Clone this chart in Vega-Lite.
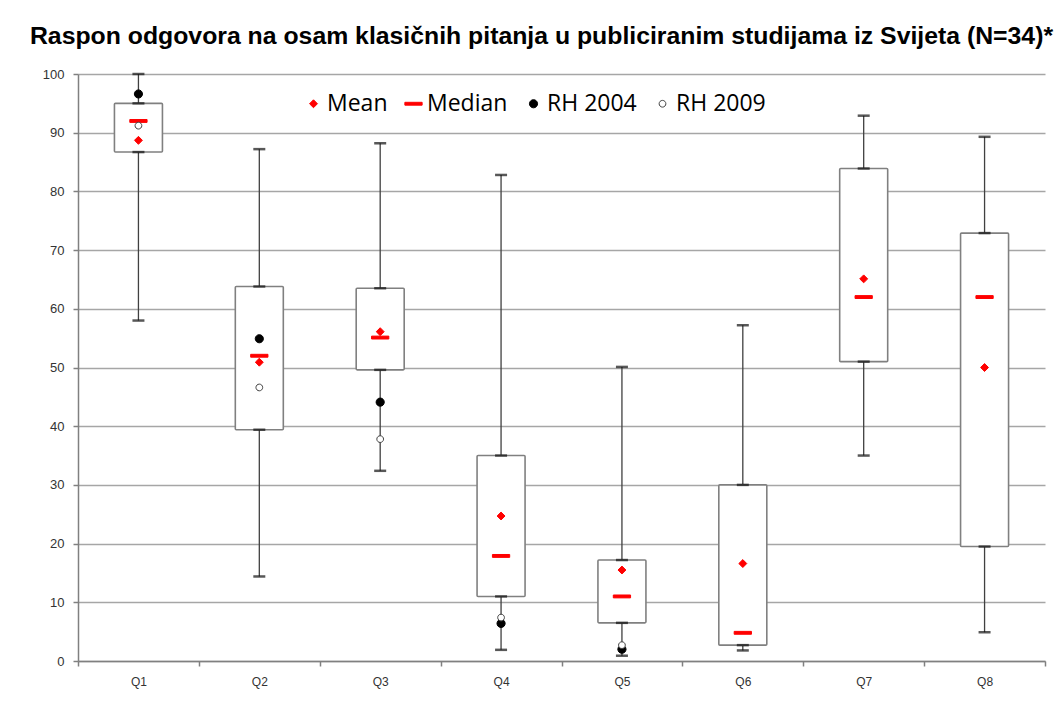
{
  "$schema": "https://vega.github.io/schema/vega-lite/v6.json",
  "width": 967,
  "height": 587,
  "autosize": {"type": "none"},
  "padding": {"left": 78, "top": 74, "right": 11, "bottom": 55},
  "background": "white",
  "title": {
    "text": "Raspon odgovora na osam klasičnih pitanja u publiciranim studijama iz Svijeta (N=34)*",
    "font": "Liberation Sans",
    "fontWeight": "bold",
    "fontSize": 24.8,
    "color": "#000000",
    "anchor": "middle",
    "frame": "group",
    "dx": -20,
    "offset": 19
  },
  "datasets": {
    "stats": [
      {"q": "Q1", "min": 58.0, "q1": 86.7, "median": 92.0, "q3": 95.0, "max": 100.0, "mean": 88.7, "rh2004": 96.6, "rh2009": 91.2},
      {"q": "Q2", "min": 14.4, "q1": 39.4, "median": 52.0, "q3": 63.8, "max": 87.2, "mean": 50.9, "rh2004": 54.9, "rh2009": 46.6},
      {"q": "Q3", "min": 32.4, "q1": 49.6, "median": 55.1, "q3": 63.5, "max": 88.2, "mean": 56.1, "rh2004": 44.1, "rh2009": 37.8},
      {"q": "Q4", "min": 1.9, "q1": 11.0, "median": 17.9, "q3": 35.0, "max": 82.8, "mean": 24.7, "rh2004": 6.4, "rh2009": 7.4},
      {"q": "Q5", "min": 0.9, "q1": 6.5, "median": 11.0, "q3": 17.2, "max": 50.1, "mean": 15.5, "rh2004": 2.0, "rh2009": 2.7},
      {"q": "Q6", "min": 1.8, "q1": 2.7, "median": 4.8, "q3": 30.0, "max": 57.2, "mean": 16.6, "rh2004": null, "rh2009": null},
      {"q": "Q7", "min": 35.0, "q1": 51.0, "median": 62.0, "q3": 83.9, "max": 92.9, "mean": 65.1, "rh2004": null, "rh2009": null},
      {"q": "Q8", "min": 4.9, "q1": 19.5, "median": 62.0, "q3": 72.9, "max": 89.3, "mean": 50.0, "rh2004": null, "rh2009": null}
    ]
  },
  "data": {"name": "stats"},
  "encoding": {
    "x": {
      "field": "q",
      "type": "nominal",
      "title": null,
      "scale": {"paddingInner": 0, "paddingOuter": 0},
      "axis": {"tickBand": "extent", "labelAngle": 0, "labelFontSize": 12, "labelPadding": 10, "grid": false}
    }
  },
  "layer": [
    {
      "mark": {"type": "rule", "color": "#404040", "strokeWidth": 1.3},
      "encoding": {
        "y": {"field": "min", "type": "quantitative", "title": null, "scale": {"domain": [0, 100], "nice": false},
              "axis": {"values": [0, 10, 20, 30, 40, 50, 60, 70, 80, 90, 100], "grid": true}},
        "y2": {"field": "max"}
      }
    },
    {
      "mark": {"type": "bar", "size": 48, "fill": "#ffffff", "stroke": "#808080", "strokeWidth": 1.6, "cornerRadius": 1},
      "encoding": {
        "y": {"field": "q1", "type": "quantitative", "title": null},
        "y2": {"field": "q3"}
      }
    },
    {
      "transform": [{"fold": ["min", "max", "q1", "q3"], "as": ["stat", "value"]}],
      "mark": {"type": "tick", "size": 12, "thickness": 2.5, "color": "#111111"},
      "encoding": {
        "y": {"field": "value", "type": "quantitative", "title": null}
      }
    },
    {
      "transform": [
        {"fold": ["mean", "median", "rh2004", "rh2009"], "as": ["series", "value"]},
        {"filter": "datum.value != null"}
      ],
      "mark": {"type": "point", "size": 576, "opacity": 1, "strokeWidth": 1},
      "encoding": {
        "y": {"field": "value", "type": "quantitative", "title": null},
        "shape": {
          "field": "series", "type": "nominal",
          "scale": {
            "domain": ["mean", "median", "rh2004", "rh2009"],
            "range": [
              "M0,-0.33L0.33,0L0,0.33L-0.33,0Z",
              "M-0.72,-0.12H0.72V0.12H-0.72Z",
              "M-0.34,0A0.34,0.34 0 1,0 0.34,0A0.34,0.34 0 1,0 -0.34,0Z",
              "M-0.28,0A0.28,0.28 0 1,0 0.28,0A0.28,0.28 0 1,0 -0.28,0Z"
            ]
          },
          "legend": {
            "orient": "none",
            "legendX": 223,
            "legendY": 17,
            "direction": "horizontal",
            "title": null,
            "labelExpr": "{'mean': 'Mean', 'median': 'Median', 'rh2004': 'RH 2004', 'rh2009': 'RH 2009'}[datum.label]"
          }
        },
        "fill": {
          "field": "series", "type": "nominal",
          "scale": {"domain": ["mean", "median", "rh2004", "rh2009"], "range": ["#ff0000", "#ff0000", "#000000", "#ffffff"]},
          "legend": {
            "orient": "none",
            "legendX": 223,
            "legendY": 17,
            "direction": "horizontal",
            "title": null,
            "labelExpr": "{'mean': 'Mean', 'median': 'Median', 'rh2004': 'RH 2004', 'rh2009': 'RH 2009'}[datum.label]"
          }
        },
        "stroke": {
          "field": "series", "type": "nominal",
          "scale": {"domain": ["mean", "median", "rh2004", "rh2009"], "range": ["#ff0000", "#ff0000", "#000000", "#404040"]},
          "legend": {
            "orient": "none",
            "legendX": 223,
            "legendY": 17,
            "direction": "horizontal",
            "title": null,
            "labelExpr": "{'mean': 'Mean', 'median': 'Median', 'rh2004': 'RH 2004', 'rh2009': 'RH 2009'}[datum.label]"
          }
        }
      }
    }
  ],
  "config": {
    "view": {"stroke": null},
    "axis": {
      "labelFont": "Liberation Sans",
      "labelFontSize": 13,
      "labelColor": "#333333",
      "domainColor": "#808080",
      "domainWidth": 1.5,
      "tickColor": "#808080",
      "tickWidth": 1.5,
      "tickSize": 5,
      "gridColor": "#a6a6a6",
      "gridWidth": 1.5
    },
    "axisY": {"labelPadding": 9},
    "legend": {
      "labelFont": "Open Sans",
      "labelFontSize": 23,
      "labelColor": "#000000",
      "symbolSize": 576,
      "symbolStrokeWidth": 1,
      "columnPadding": 13,
      "labelOffset": 1
    }
  }
}
